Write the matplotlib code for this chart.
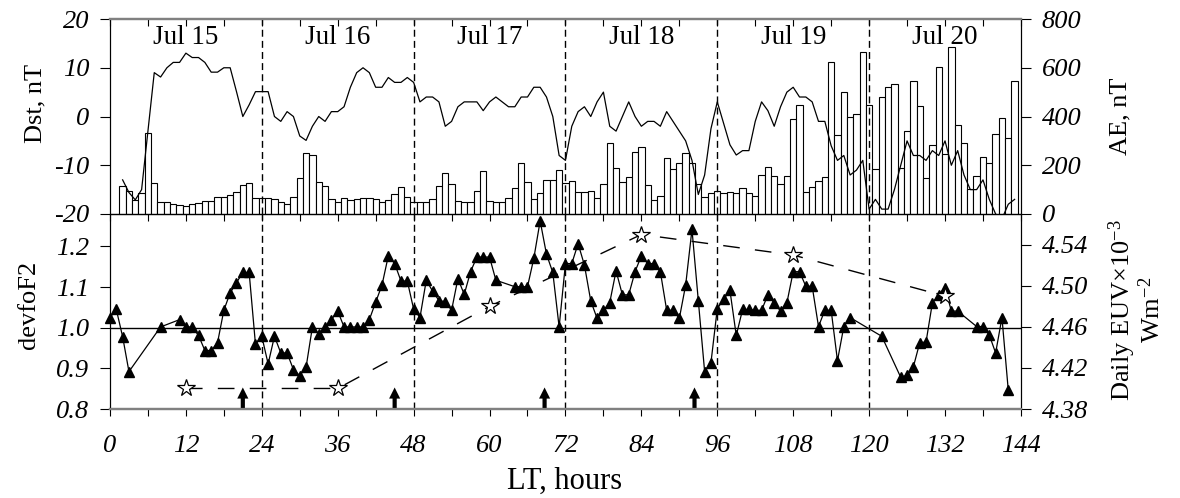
import numpy as np
import matplotlib
matplotlib.use('Agg')
import matplotlib.pyplot as plt

plt.rcParams['font.family'] = ['Liberation Serif', 'DejaVu Serif']
plt.rcParams['mathtext.fontset'] = 'custom'
plt.rcParams['mathtext.rm'] = 'Liberation Serif'
plt.rcParams['mathtext.it'] = 'Liberation Serif:italic'

# hourly AE (bars, right axis of top panel), hours 2..143
ae_hours = np.arange(2, 144)
ae_values = [116, 96, 57, 85, 331, 126, 51, 48, 41, 37, 34, 41, 44, 52, 52, 71, 71, 77, 89, 118,
             126, 67, 64, 67, 60, 48, 40, 68, 146, 252, 243, 133, 116, 62, 49, 64, 57, 62, 66, 64,
             60, 49, 57, 81, 112, 71, 48, 51, 48, 60, 116, 170, 122, 55, 48, 48, 93, 178, 53, 51,
             48, 67, 105, 208, 133, 60, 85, 138, 138, 182, 129, 134, 89, 92, 96, 66, 122, 290, 190, 130,
             153, 253, 276, 119, 57, 75, 231, 185, 208, 249, 211, 122, 68, 88, 96, 85, 92, 88, 105, 85,
             74, 160, 193, 156, 122, 156, 391, 447, 92, 112, 135, 153, 625, 324, 502, 397, 409, 666, 447, 185,
             479, 520, 535, 187, 339, 547, 443, 146, 282, 602, 246, 684, 364, 290, 101, 155, 232, 208, 327, 395,
             313, 546]

# hourly Dst (line, left axis of top panel), hours 2..143
dst_hours = np.arange(2, 144)
dst_values = [-13, -15.6, -17.1, -15, -3, 9, 8.1, 10, 11.1, 11.1, 13, 12.1, 12.1, 11.1, 9.1, 9.1, 10, 10, 5.1, 0,
              2.4, 5.1, 5.1, 5.1, 0, -1, 1, 0, -4, -4.9, -2, 0, -1, 1, 1, 2, 6, 9, 10, 9,
              6, 6, 8, 7, 7, 8, 7, 3, 4, 4, 3, -2, -1, 2, 3, 3, 3, 1.2, 3, 4,
              3, 2, 2, 4, 4, 6, 6, 4, 0, -8, -9, -2, 1, 2, 0, 3, 5, -2, -3, 0,
              3, 0, -2, -1, -1, -2, 1, -1, -3, -5, -9, -16, -12, -2.5, 3, -1.4, -5.8, -7.9, -7, -7,
              -1, 3, 1.2, -2, 2, 5, 6, 4, 4, 3, -1, -1, -6, -9, -8, -12, -11, -9, -19, -17,
              -19, -19, -15, -10, -5, -8, -8, -9, -7, -8, -5, -10, -7, -12, -15, -15, -13, -17, -20, -21,
              -18, -17]

# devfoF2 (triangles, left axis of bottom panel)
fof2_hours = [0, 1, 2, 3, 8, 11, 12, 13, 14, 15, 16, 17, 18, 19, 20, 21, 22, 23, 24, 25,
              26, 27, 28, 29, 30, 31, 32, 33, 34, 35, 36, 37, 38, 39, 40, 41, 42, 43, 44, 45,
              46, 47, 48, 49, 50, 51, 52, 53, 54, 55, 56, 57, 58, 59, 60, 61, 64, 65, 66, 67,
              68, 69, 70, 71, 72, 73, 74, 75, 76, 77, 78, 79, 80, 81, 82, 83, 84, 85, 86, 87,
              88, 89, 90, 91, 92, 93, 94, 95, 96, 97, 98, 99, 100, 101, 102, 103, 104, 105, 106, 107,
              108, 109, 110, 111, 112, 113, 114, 115, 116, 117, 122, 125, 126, 127, 128, 129, 130, 131, 132, 133,
              134, 137, 138, 139, 140, 141, 142]
fof2_values = [1.025, 1.045, 0.978, 0.892, 1.002, 1.02, 1.002, 1.002, 0.981, 0.944, 0.944, 0.963, 1.043, 1.086, 1.111, 1.136, 1.136, 0.959, 0.979, 0.911,
               0.979, 0.938, 0.938, 0.897, 0.882, 0.903, 1.002, 0.984, 1.002, 1.02, 1.041, 1.002, 1.002, 1.002, 1.002, 1.02, 1.063, 1.105, 1.177, 1.158,
               1.115, 1.115, 1.046, 1.025, 1.117, 1.09, 1.067, 1.064, 1.043, 1.121, 1.082, 1.138, 1.174, 1.174, 1.174, 1.117, 1.101, 1.101, 1.101, 1.171,
               1.263, 1.181, 1.136, 1.002, 1.158, 1.158, 1.207, 1.154, 1.066, 1.023, 1.043, 1.062, 1.14, 1.081, 1.081, 1.138, 1.177, 1.158, 1.158, 1.138,
               1.043, 1.043, 1.023, 1.105, 1.242, 1.067, 0.892, 0.914, 1.047, 1.07, 1.092, 0.981, 1.045, 1.045, 1.043, 1.043, 1.081, 1.061, 1.041, 1.061,
               1.138, 1.138, 1.102, 1.102, 1.003, 1.043, 1.043, 0.919, 1.003, 1.025, 0.979, 0.878, 0.883, 0.904, 0.963, 0.965, 1.061, 1.081, 1.099, 1.041,
               1.041, 1.003, 1.003, 0.982, 0.938, 1.025, 0.846]

# daily EUV (stars, right axis of bottom panel)
euv_hours = [12, 36, 60, 84, 108, 132]
euv_values = [4.40, 4.40, 4.48, 4.55, 4.53, 4.49]

arrow_hours = [21, 45, 68.7, 92.4]
day_labels = ['Jul 15', 'Jul 16', 'Jul 17', 'Jul 18', 'Jul 19', 'Jul 20']
day_centres = [12, 36, 60, 84, 108, 132]
day_bounds = [24, 48, 72, 96, 120]

fig = plt.figure(figsize=(11.8, 4.98), dpi=100)
ax1 = fig.add_axes([0.0932, 0.5703, 0.772, 0.3915])
ax2 = fig.add_axes([0.0932, 0.1787, 0.772, 0.3916])
ax1r = ax1.twinx()
ax2r = ax2.twinx()

# top panel: bars behind the Dst line
ax1r.bar(ae_hours, ae_values, width=1, color='white', edgecolor='black', linewidth=0.8)
ax1.set_zorder(ax1r.get_zorder() + 1)
ax1.patch.set_visible(False)
ax1.plot(dst_hours, dst_values, color='black', lw=0.9)
for b in day_bounds:
    ax1.axvline(b, color='black', lw=1, ls=(0, (5, 3)))
for c, lab in zip(day_centres, day_labels):
    ax1.text(c, 14.8, lab, ha='center', va='baseline', fontsize=19.5)

ax1.set_xlim(0, 144)
ax1.set_ylim(-20, 20)
ax1r.set_ylim(0, 800)

# bottom panel
ax2.axhline(1.0, color='black', lw=1)
for b in day_bounds:
    ax2.axvline(b, color='black', lw=1, ls=(0, (5, 3)))
ax2.plot(fof2_hours, fof2_values, color='black', lw=0.9, marker='^', ms=7, clip_on=False)
for h in arrow_hours:
    ax2.annotate('', xy=(h, 0.853), xytext=(h, 0.80),
                 arrowprops=dict(arrowstyle='simple,head_length=0.8,head_width=0.8,tail_width=0.3',
                                 fc='black', ec='none', lw=0, shrinkA=0, shrinkB=0, mutation_scale=10))
ax2r.plot(euv_hours, euv_values, color='black', lw=1, ls=(0, (12, 11)))
ax2r.plot(euv_hours, euv_values, ls='none', marker='*', ms=13, mfc='white', mec='black', mew=0.9)

ax2.set_xlim(0, 144)
ax2.set_ylim(0.8, 1.28)
ax2r.set_ylim(4.38, 4.57)

# ticks
xt = np.arange(0, 145, 6)
xl = [str(v) if v % 12 == 0 else '' for v in xt]
ax1.set_xticks(xt)
ax1.tick_params(axis='x', bottom=False, top=True, labelbottom=False, direction='in', length=5, width=0.8)
ax2.set_xticks(xt, labels=xl, fontsize=19)
ax2.tick_params(axis='x', direction='out', length=5, width=0.8, pad=14)
sec = ax2.secondary_xaxis('top')
sec.set_xticks(xt)
sec.tick_params(axis='x', direction='in', length=5, width=0.8, labeltop=False)

ax1.set_yticks([-20, -10, 0, 10, 20], labels=['-20', '-10', '0', '10', '20'], fontsize=19)
ax1r.set_yticks([0, 200, 400, 600, 800], labels=['0', '200', '400', '600', '800'], fontsize=19)
ax2.set_yticks([0.8, 0.9, 1.0, 1.1, 1.2], labels=['0.8', '0.9', '1.0', '1.1', '1.2'], fontsize=19)
ax2r.set_yticks([4.38, 4.42, 4.46, 4.50, 4.54], labels=['4.38', '4.42', '4.46', '4.50', '4.54'], fontsize=19)
for ax in (ax1, ax1r, ax2, ax2r):
    ax.tick_params(axis='y', length=7, width=0.8, pad=8)
    for t in ax.get_yticklabels() + ax.get_xticklabels():
        t.set_fontstyle('italic')

for ax in (ax1, ax1r):
    ax.spines['top'].set_color('#808080')
    ax.spines['top'].set_linewidth(1.6)
for ax in (ax2, ax2r):
    ax.spines['bottom'].set_color('#808080')
    ax.spines['bottom'].set_linewidth(1.6)
sec.spines['top'].set_visible(False)

# axis titles
fig.text(35 / 1180, 1 - 103 / 498, 'Dst, nT', rotation=90, ha='center', va='center', fontsize=19)
fig.text(29 / 1180, 1 - 305 / 498, 'devfoF2', rotation=90, ha='center', va='center', fontsize=19)
fig.text(1120 / 1180, 1 - 116 / 498, 'AE, nT', rotation=90, ha='center', va='center', fontsize=19)
fig.text(1136 / 1180, 1 - 310 / 498, 'Daily EUV\u00d710$^{-3}$\nWm$^{-2}$', rotation=90,
         ha='center', va='center', fontsize=19, multialignment='center', linespacing=1.0)
fig.text(565 / 1180, 1 - 489 / 498, 'LT, hours', ha='center', va='baseline', fontsize=22)

fig.savefig('out.png', dpi=100)
